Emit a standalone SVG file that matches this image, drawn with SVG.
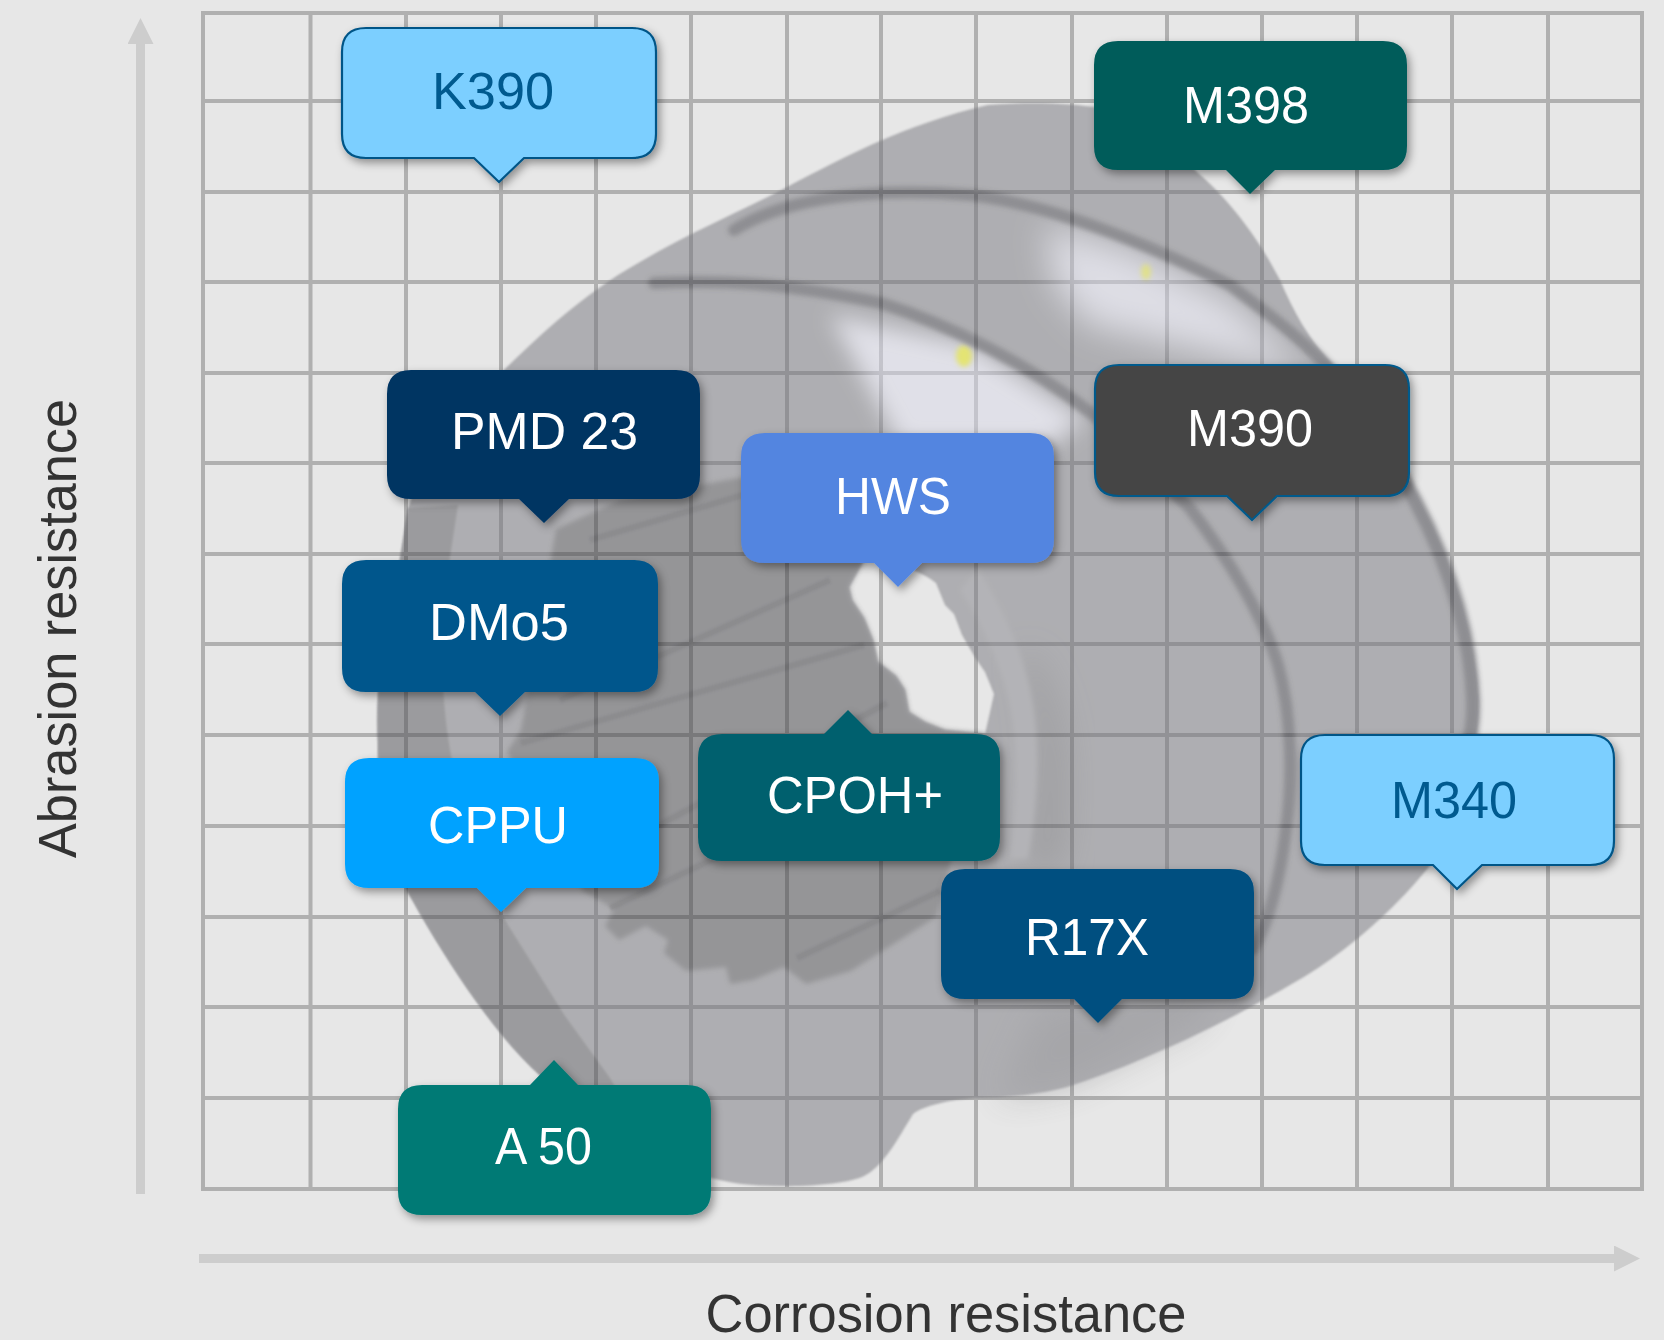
<svg xmlns="http://www.w3.org/2000/svg" width="1664" height="1340" viewBox="0 0 1664 1340">
<style>
.v{stroke:#b0b0b0;stroke-width:4;fill:none}
.h{stroke:#b0b0b0;stroke-width:4;fill:none}
.ax{stroke:#cdcdcd;stroke-width:9;fill:none}
.t{font-family:"Liberation Sans",Arial,sans-serif;font-size:52px;fill:#fff}
.d{fill:#005a8f}
.lab{font-family:"Liberation Sans",Arial,sans-serif;font-size:53px;fill:#333}
.n{filter:url(#sh)}
.o{stroke:#005587;stroke-width:2.2}
</style>
<defs>
<filter id="sh" x="-10%" y="-10%" width="125%" height="130%"><feDropShadow dx="3" dy="4" stdDeviation="4" flood-color="#000" flood-opacity=".38"/></filter>
<filter id="b1" x="-5%" y="-5%" width="110%" height="110%"><feGaussianBlur stdDeviation="1.2"/></filter>
<filter id="b2" x="-20%" y="-20%" width="140%" height="140%"><feGaussianBlur stdDeviation="2.500"/></filter>
<filter id="b10" x="-40%" y="-40%" width="180%" height="180%"><feGaussianBlur stdDeviation="11"/></filter>
<filter id="b12" x="-60%" y="-60%" width="220%" height="220%"><feGaussianBlur stdDeviation="17"/></filter>
<clipPath id="c1"><path d="M787 285L881 303L970 333L1046 377L1091 413L1140 460L1100 600L780 600Z"/></clipPath>
<clipPath id="c2"><path d="M886 192L970 195L1069 213L1158 247L1225 280L1300 347L1360 420L1200 490L1091 413L1046 377L970 333L881 303L860 200Z"/></clipPath>
<marker id="ah" markerUnits="userSpaceOnUse" markerWidth="26" markerHeight="26" refX="0" refY="13" orient="auto"><path d="M0 0L26 13L0 26Z" fill="#cdcdcd"/></marker>
</defs>
<rect width="1664" height="1340" fill="#e7e7e7"/>
<g id="grid">
<path class="v" d="M203 13V1189M310.500 13V1189M406 13V1189M501 13V1189M596 13V1189M691 13V1189M787 13V1189M881 13V1189M976 13V1189M1072 13V1189M1167 13V1189M1262 13V1189M1357 13V1189M1452 13V1189M1548 13V1189M1642 13V1189"/>
<path class="h" d="M201 13H1644M203 101H1642M203 192H1642M203 282H1642M203 373H1642M203 463H1642M203 554H1642M203 644H1642M203 735H1642M203 826H1642M203 917H1642M203 1007H1642M203 1098H1642M201 1189H1644"/>
</g>
<g id="screw" opacity=".5">
<path filter="url(#b1)" fill="#75757c" fill-rule="evenodd" d="M988 105C1030 102 1070 103 1100 108C1150 130 1175 150 1198 173C1235 205 1262 245 1280 280C1295 315 1310 340 1331 363C1365 405 1395 460 1420 505C1450 560 1472 625 1478 695C1480 740 1465 800 1435 859C1400 905 1345 955 1290 985C1230 1020 1150 1060 1067 1087C1040 1094 1010 1098 974 1098C950 1100 925 1105 913 1114C900 1135 885 1165 864 1176C850 1183 810 1187 780 1186C750 1186 730 1183 711 1178C650 1160 590 1115 541 1076C490 1030 440 950 408 892C385 835 378 790 378 743C376 700 380 650 390 610C398 580 403 540 408 508C425 460 460 415 504 370C550 325 590 290 640 262C690 232 740 212 787 187C830 165 900 125 988 105Z M864 560C890 560 920 570 936 583L945 605L954 614L962 635L976 659L985 672L994 694L990 712L985 734L945 730L925 722L909 712L905 690L896 676L878 662L873 640L864 618L852 600L849 587Z"/>
<path filter="url(#b1)" fill="#505055" d="M408 508C403 540 398 580 390 610C380 650 376 700 378 743C378 790 385 835 408 892C440 950 490 1030 541 1076L612 1130L640 1130L610 1078L565 1016L503 917C475 850 455 790 447 730C440 670 440 620 448 570L458 505Z"/>
<path filter="url(#b2)" fill="#434347" d="M743 477L620 500L556 529L521 730L507 752L583 891L614 909L605 926L619 940L646 926L668 940L664 953L686 971L726 967L730 984L753 980L784 967L806 984L851 971L936 917L985 734L945 730L925 722L909 712L905 690L896 676L878 662L873 640L864 618L852 600L849 587L864 560L800 500Z"/>
<g fill="none" stroke="#202026" stroke-width="6" opacity=".55" filter="url(#b1)">
<path d="M521 743L864 645M637 837L887 703M610 908L806 815M797 958L940 891M590 540L760 490M560 700L830 580"/>
</g>
<path filter="url(#b12)" fill="#55555a" d="M1030 650C1065 700 1075 770 1060 870L1025 870C1040 790 1040 720 1020 660Z"/>
<path filter="url(#b2)" fill="#7f7f86" d="M978 569C1010 620 1030 670 1035 720C1040 770 1035 820 1028 859L1010 859C1016 810 1018 760 1012 720C1005 670 980 620 960 590Z"/>
<g clip-path="url(#c1)" opacity=".9"><path filter="url(#b10)" fill="#e4e4f4" d="M830 315L970 345L1085 420L1050 445L900 445Z"/></g>
<g clip-path="url(#c2)" opacity=".85"><path filter="url(#b12)" fill="#e4e4f4" d="M1045 225L1130 250L1230 300L1310 375L1200 350L1090 325L1055 285Z"/></g>
<g fill="#e0e000" filter="url(#b2)"><ellipse cx="964" cy="356" rx="8" ry="11"/><ellipse cx="1146" cy="272" rx="5" ry="8" opacity=".75"/></g>
<g fill="none" stroke="#36363c" stroke-linecap="round" filter="url(#b2)">
<path stroke-width="12" d="M734 230C790 195 880 188 970 195C1060 205 1170 255 1230 285C1270 315 1310 345 1340 380"/>
<path stroke-width="12" d="M654 283C720 280 780 282 881 303C950 325 1030 365 1091 413C1140 455 1165 485 1189 507C1230 560 1264 618 1278 665C1292 715 1293 780 1286 830C1280 880 1268 925 1253 949"/>
<path stroke-width="14" d="M1398 470C1440 540 1470 620 1473 700C1474 730 1468 745 1464 760"/>
</g>
<path filter="url(#b12)" fill="#5a5a60" opacity=".6" d="M1040 1010L1140 1000L1230 940L1200 1020L1070 1085L1000 1098Z"/>
</g>
<g id="connectors" class="ax">
<line x1="140.500" y1="1194" x2="140.500" y2="44" marker-end="url(#ah)"/>
<line x1="199" y1="1258.500" x2="1614" y2="1258.500" marker-end="url(#ah)"/>
</g>
<g id="axis-y"><text class="lab" transform="translate(76 858) rotate(-90)" textLength="459" lengthAdjust="spacingAndGlyphs">Abrasion resistance</text></g>
<g id="axis-x"><text class="lab" x="705.500" y="1332" textLength="481" lengthAdjust="spacingAndGlyphs">Corrosion resistance</text></g>
<g id="k390" class="n"><path class="o" fill="#7ccfff" d="M366 28H632Q656 28 656 52V134Q656 158 632 158H524L499 182L474 158H366Q342 158 342 134V52Q342 28 366 28Z"/><text class="t d" x="432" y="109" textLength="122" lengthAdjust="spacingAndGlyphs">K390</text></g>
<g id="m398" class="n"><path fill="#005b5a" d="M1118 41H1383Q1407 41 1407 65V146Q1407 170 1383 170H1275L1250 194L1226 170H1118Q1094 170 1094 146V65Q1094 41 1118 41Z"/><text class="t" x="1183" y="123" textLength="126" lengthAdjust="spacingAndGlyphs">M398</text></g>
<g id="pmd23" class="n"><path fill="#003462" d="M411 370H676Q700 370 700 394V475Q700 499 676 499H569L544 523L519 499H411Q387 499 387 475V394Q387 370 411 370Z"/><text class="t" x="451" y="449" textLength="187" lengthAdjust="spacingAndGlyphs">PMD 23</text></g>
<g id="m390" class="n"><path fill="#444" stroke="#005a8c" stroke-width="2.200" d="M1119 365H1385Q1409 365 1409 389V472Q1409 496 1385 496H1277L1252 520L1227 496H1119Q1095 496 1095 472V389Q1095 365 1119 365Z"/><text class="t" x="1187" y="446" textLength="126" lengthAdjust="spacingAndGlyphs">M390</text></g>
<g id="hws" class="n"><path fill="#5385e0" d="M765 433H1030Q1054 433 1054 457V539Q1054 563 1030 563H922L898 587L874 563H765Q741 563 741 539V457Q741 433 765 433Z"/><text class="t" x="835" y="514" textLength="116" lengthAdjust="spacingAndGlyphs">HWS</text></g>
<g id="dmo5" class="n"><path fill="#00578c" d="M366 560H634Q658 560 658 584V668Q658 692 634 692H525L500 716L475 692H366Q342 692 342 668V584Q342 560 366 560Z"/><text class="t" x="429" y="640" textLength="140" lengthAdjust="spacingAndGlyphs">DMo5</text></g>
<g id="cpoh" class="n"><path fill="#00616e" d="M722 734H824L848 710L872 734H976Q1000 734 1000 758V837Q1000 861 976 861H722Q698 861 698 837V758Q698 734 722 734Z"/><text class="t" x="767" y="813" textLength="176" lengthAdjust="spacingAndGlyphs">CPOH+</text></g>
<g id="cppu" class="n"><path fill="#00a2ff" d="M369 758H635Q659 758 659 782V864Q659 888 635 888H526L501 912L477 888H369Q345 888 345 864V782Q345 758 369 758Z"/><text class="t" x="428" y="843" textLength="140" lengthAdjust="spacingAndGlyphs">CPPU</text></g>
<g id="m340" class="n"><path class="o" fill="#7ccfff" d="M1325 735H1590Q1614 735 1614 759V841Q1614 865 1590 865H1482L1457 889L1433 865H1325Q1301 865 1301 841V759Q1301 735 1325 735Z"/><text class="t d" x="1391" y="818" textLength="126" lengthAdjust="spacingAndGlyphs">M340</text></g>
<g id="r17x" class="n"><path fill="#004f80" d="M965 869H1230Q1254 869 1254 893V975Q1254 999 1230 999H1122L1098 1023L1074 999H965Q941 999 941 975V893Q941 869 965 869Z"/><text class="t" x="1025" y="955" textLength="124" lengthAdjust="spacingAndGlyphs">R17X</text></g>
<g id="a50" class="n"><path fill="#007a75" d="M422 1085H530L554 1060L578 1085H687Q711 1085 711 1109V1191Q711 1215 687 1215H422Q398 1215 398 1191V1109Q398 1085 422 1085Z"/><text class="t" x="495" y="1164" textLength="97" lengthAdjust="spacingAndGlyphs">A 50</text></g>
</svg>
